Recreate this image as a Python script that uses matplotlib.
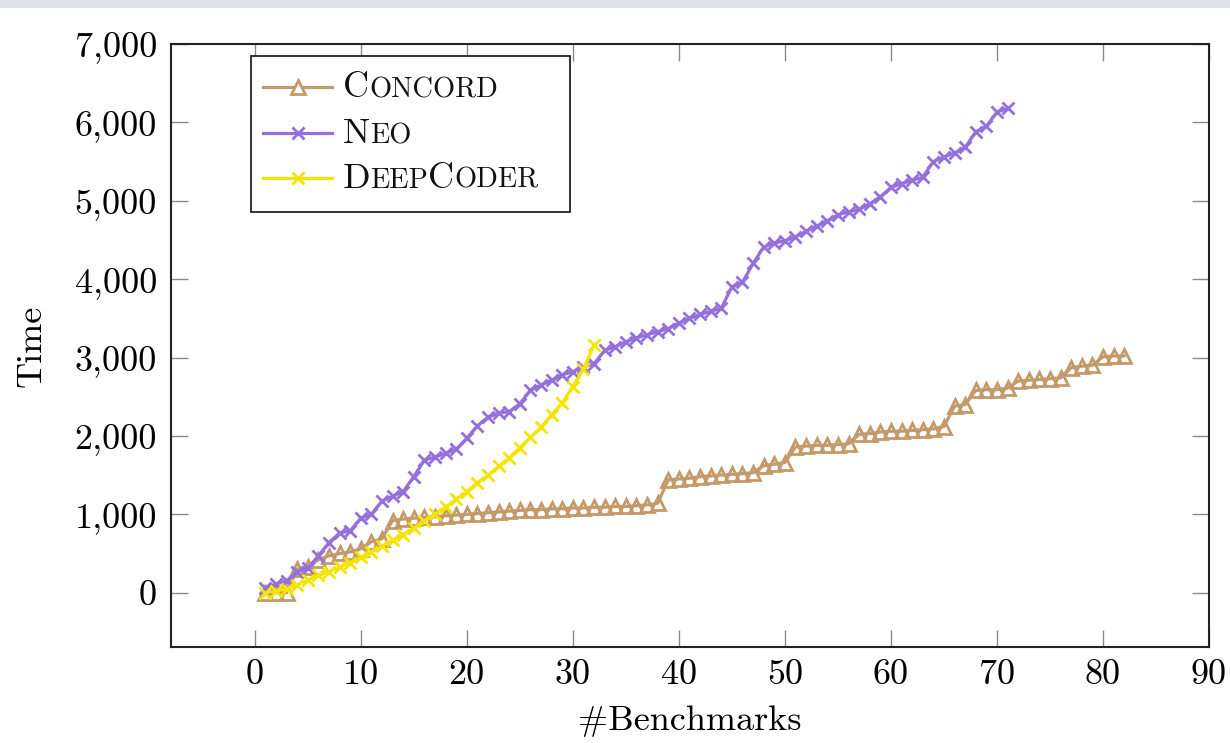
import matplotlib
matplotlib.use('Agg')
import matplotlib.pyplot as plt
from matplotlib.lines import Line2D
from matplotlib.patches import Rectangle
from matplotlib.ticker import FuncFormatter

plt.rcParams['font.family'] = 'cmr10'
plt.rcParams['axes.formatter.use_mathtext'] = True
plt.rcParams['mathtext.fontset'] = 'cm'

# ---------------- data ----------------
concord_time = [0, 0, 0, 300, 330, 420, 470, 500, 520, 560,
                650, 690, 920, 940, 950, 960, 970, 980, 990, 1000,
                1010, 1020, 1030, 1040, 1050, 1060, 1060, 1070, 1070, 1080,
                1080, 1090, 1090, 1100, 1100, 1110, 1120, 1140, 1440, 1450,
                1460, 1480, 1490, 1500, 1510, 1520, 1530, 1620, 1640, 1660,
                1860, 1870, 1880, 1880, 1890, 1900, 2020, 2030, 2050, 2060,
                2060, 2070, 2080, 2090, 2120, 2380, 2400, 2580, 2590, 2590,
                2610, 2700, 2710, 2720, 2730, 2740, 2870, 2890, 2900, 3010,
                3020, 3020]
neo_time = [60, 110, 150, 270, 310, 470, 640, 760, 790, 950,
            1000, 1170, 1230, 1290, 1480, 1690, 1730, 1780, 1830, 1970,
            2130, 2240, 2290, 2310, 2410, 2580, 2650, 2710, 2780, 2820,
            2880, 2920, 3090, 3140, 3200, 3250, 3290, 3330, 3370, 3440,
            3500, 3550, 3590, 3630, 3900, 3960, 4200, 4410, 4460, 4490,
            4540, 4610, 4680, 4740, 4820, 4860, 4890, 4960, 5050, 5170,
            5220, 5260, 5300, 5500, 5560, 5610, 5680, 5880, 5950, 6130,
            6180]
deepcoder_time = [0, 20, 50, 100, 160, 220, 270, 330, 380, 450,
                  520, 590, 670, 740, 820, 920, 1000, 1090, 1190, 1290,
                  1400, 1500, 1610, 1720, 1850, 1980, 2110, 2270, 2420, 2630,
                  2850, 3160]
concord_x = list(range(1, len(concord_time) + 1))
neo_x = list(range(1, len(neo_time) + 1))
deepcoder_x = list(range(1, len(deepcoder_time) + 1))

x_ticks = [0, 10, 20, 30, 40, 50, 60, 70, 80, 90]
y_ticks = [0, 1000, 2000, 3000, 4000, 5000, 6000, 7000]
x_label = '#Benchmarks'
y_label = 'Time'

C_CONCORD = '#c49a6a'
C_NEO = '#9370db'
C_DEEP = '#f5e400'

LW = 2.3
MEW = 2.0

W, H = 1230, 743
fig = plt.figure(figsize=(W / 100, H / 100), dpi=100)

def fx(x):
    return x / W

def fy(y):
    return 1 - y / H

# top grey band
fig.add_artist(Rectangle((0, fy(8)), 1, 8 / H, transform=fig.transFigure,
                         facecolor='#dee2e6', edgecolor='none', zorder=0))

ax = fig.add_axes([fx(171), fy(647), (1209 - 171) / W, (647 - 44) / H])

ax.plot(concord_x, concord_time, color=C_CONCORD, lw=LW, marker='^', ms=9.5,
        mfc='none', mec=C_CONCORD, mew=MEW, zorder=3)
ax.plot(neo_x, neo_time, color=C_NEO, lw=LW, marker='x', ms=9,
        mec=C_NEO, mew=MEW, zorder=4)
ax.plot(deepcoder_x, deepcoder_time, color=C_DEEP, lw=LW, marker='x', ms=9,
        mec=C_DEEP, mew=MEW, zorder=5)

ax.set_xlim(-7.9, 90)
ax.set_ylim(-693, 7000)
ax.set_xticks(x_ticks)
ax.set_yticks(y_ticks)
ax.yaxis.set_major_formatter(FuncFormatter(lambda v, p: f'{int(v):,}'))
ax.xaxis.set_major_formatter(FuncFormatter(lambda v, p: f'{int(v)}'))
ax.tick_params(direction='in', length=12.5, width=1.0, color='#8a8a8a',
               top=True, right=True, labelsize=26)
ax.tick_params(axis='x', pad=9)
ax.tick_params(axis='y', pad=10)
for s in ax.spines.values():
    s.set_linewidth(1.5)
    s.set_color('#222222')

ax.set_xlabel(x_label, fontsize=26)
ax.set_ylabel(y_label, fontsize=26)
ax.xaxis.set_label_coords(0.5, -0.097)
ax.yaxis.set_label_coords(-0.119, 0.5)

# ---------------- legend (small-caps emulation) ----------------
fig.add_artist(Rectangle((fx(251), fy(212)), (570 - 251) / W, (212 - 56) / H,
                         transform=fig.transFigure, facecolor='white',
                         edgecolor='#222222', lw=1.3, zorder=10))

legend_rows = [
    ([('C', True), ('ONCORD', False)], C_CONCORD, '^', 97),
    ([('N', True), ('EO', False)], C_NEO, 'x', 143),
    ([('D', True), ('EEP', False), ('C', True), ('ODER', False)], C_DEEP, 'x', 188),
]
renderer = fig.canvas.get_renderer()
for pieces, col, mk, base in legend_rows:
    ly = base - 10
    fig.add_artist(Line2D([fx(263), fx(332)], [fy(ly), fy(ly)], transform=fig.transFigure,
                          color=col, lw=LW, zorder=11))
    if mk == '^':
        fig.add_artist(Line2D([fx(297.5)], [fy(ly)], transform=fig.transFigure, marker='^',
                              ms=9.5, mfc='white', mec=col, mew=MEW, color=col, zorder=12))
    else:
        fig.add_artist(Line2D([fx(297.5)], [fy(ly)], transform=fig.transFigure, marker='x',
                              ms=9, mec=col, mew=MEW, color=col, zorder=12))
    xcur = 343
    for txt, big in pieces:
        t = fig.text(fx(xcur), fy(base), txt, fontsize=26 if big else 20.5,
                     ha='left', va='baseline', zorder=13, color='#111111')
        w = t.get_window_extent(renderer).width
        xcur += w

fig.savefig('out.png', dpi=100)
